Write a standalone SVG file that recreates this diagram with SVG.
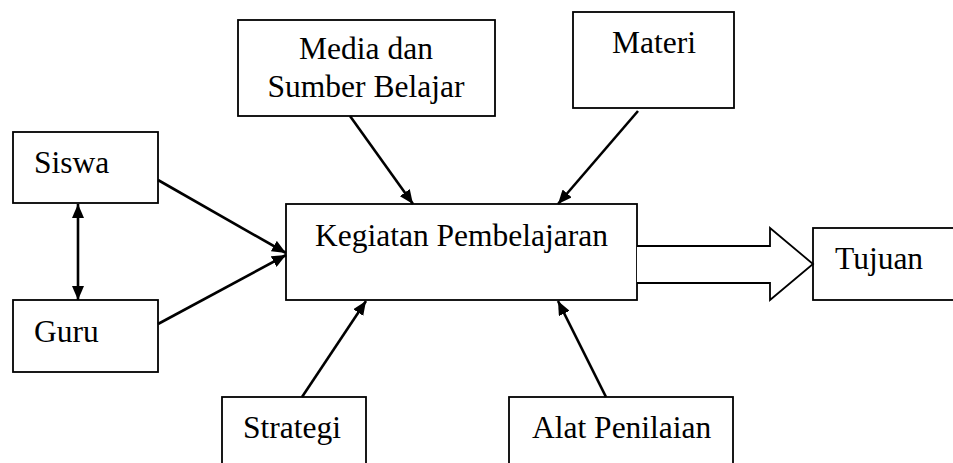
<svg xmlns="http://www.w3.org/2000/svg" width="953" height="463" viewBox="0 0 953 463">
<style>
.box{fill:#fff;stroke:#000;stroke-width:1.8}
.lbl{font-family:"Liberation Serif","Times New Roman",serif;font-size:31.5px;fill:#000}
.con{stroke:#000;stroke-width:2.6;fill:none}
</style>
<defs>
<marker id="ah" viewBox="0 0 14 12" refX="14" refY="6" markerWidth="14" markerHeight="12" markerUnits="userSpaceOnUse" orient="auto-start-reverse">
<path d="M0,0 L14,6 L0,12 z" fill="#000"/>
</marker>
</defs>
<rect width="953" height="463" fill="#fff"/>
<g id="siswa"><rect class="box" x="13" y="132" width="145" height="71"/><text class="lbl" x="34" y="173">Siswa</text></g>
<g id="guru"><rect class="box" x="13" y="300" width="145" height="72"/><text class="lbl" x="34" y="342">Guru</text></g>
<g id="media"><rect class="box" x="238" y="20" width="257" height="96"/><text class="lbl" x="366" y="59" text-anchor="middle">Media dan</text><text class="lbl" x="366" y="97" text-anchor="middle">Sumber Belajar</text></g>
<g id="materi"><rect class="box" x="573" y="12" width="161" height="96"/><text class="lbl" x="612" y="53">Materi</text></g>
<g id="kegiatan"><rect class="box" x="286" y="204" width="351" height="96"/><text class="lbl" x="461.5" y="246" text-anchor="middle">Kegiatan Pembelajaran</text></g>
<g id="tujuan"><rect class="box" x="813" y="228" width="150" height="72"/><text class="lbl" x="835" y="269">Tujuan</text></g>
<g id="strategi"><rect class="box" x="222" y="397" width="144" height="80"/><text class="lbl" x="243" y="438">Strategi</text></g>
<g id="alat"><rect class="box" x="509" y="397" width="224" height="80"/><text class="lbl" x="532" y="438">Alat Penilaian</text></g>
<g id="connectors">
<path class="con" d="M158,180 L286,253" marker-end="url(#ah)"/>
<path class="con" d="M158,324 L286,255" marker-end="url(#ah)"/>
<path class="con" d="M78,204 L78,300" marker-start="url(#ah)" marker-end="url(#ah)"/>
<path class="con" d="M350,116 L413,204" marker-end="url(#ah)"/>
<path class="con" d="M638,111 L558,204" marker-end="url(#ah)"/>
<path class="con" d="M302,397 L366,301" marker-end="url(#ah)"/>
<path class="con" d="M606,397 L558,301" marker-end="url(#ah)"/>
<path d="M637,246 L770,246 L770,228 L813,264 L770,300 L770,283 L637,283" fill="#fff" stroke="#000" stroke-width="1.8"/>
</g>
</svg>
